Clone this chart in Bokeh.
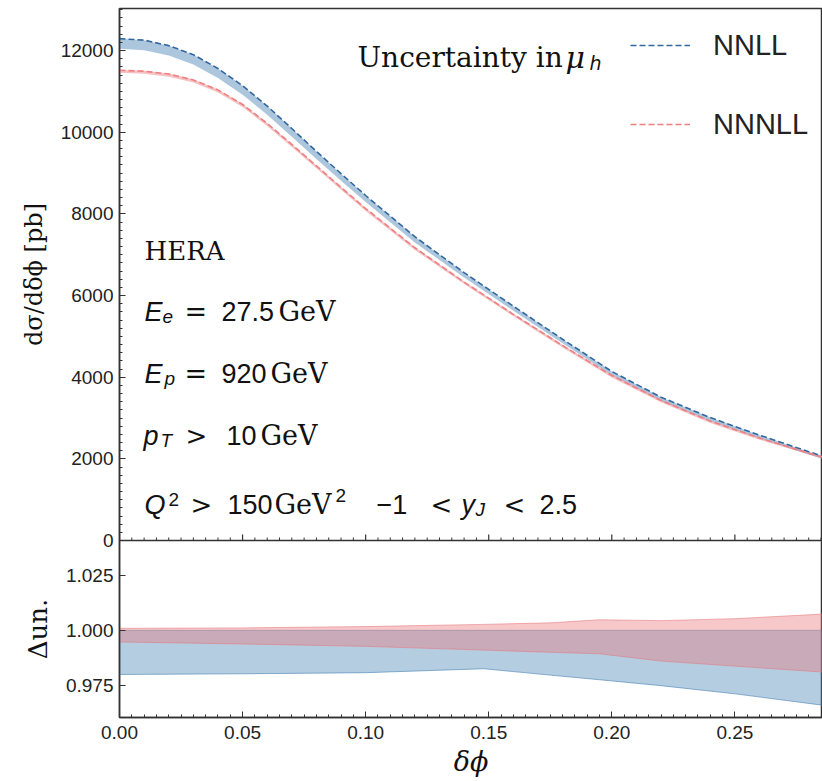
import math
from bokeh.plotting import figure
from bokeh.models import (Label, Legend, LegendItem, SingleIntervalTicker, FixedTicker,
                          PrintfTickFormatter, Range1d)
from bokeh.layouts import column
from bokeh.embed import file_html
from bokeh.resources import INLINE

# ---------------- data ----------------
delta_phi = [0.0, 0.01, 0.02, 0.03, 0.04, 0.05, 0.06, 0.07, 0.08, 0.09, 0.10,
             0.12, 0.14, 0.16, 0.18, 0.20, 0.22, 0.24, 0.26, 0.28, 0.2856]
nnll = [12291, 12255, 12120, 11900, 11560, 11140, 10640, 10090, 9530, 8985, 8450,
        7440, 6560, 5740, 4930, 4140, 3510, 3010, 2580, 2175, 2068]
nnll_lo = [12045, 12010, 11880, 11660, 11330, 10920, 10430, 9890, 9345, 8810, 8290,
           7300, 6440, 5630, 4830, 4045, 3420, 2925, 2505, 2105, 1998]
nnnll = [11516, 11495, 11425, 11280, 11035, 10680, 10215, 9700, 9175, 8650, 8130,
         7170, 6330, 5540, 4775, 4040, 3430, 2925, 2510, 2140, 2046]
nnnll_lo = [11455, 11430, 11360, 11215, 10970, 10615, 10155, 9640, 9115, 8590, 8070,
            7115, 6280, 5495, 4730, 3995, 3385, 2880, 2470, 2105, 2007]
nnnll_hi = [11526, 11505, 11435, 11290, 11045, 10690, 10225, 9710, 9185, 8660, 8145,
            7185, 6345, 5555, 4792, 4060, 3445, 2940, 2523, 2155, 2061]

ratio_x = [0.0, 0.05, 0.10, 0.148, 0.175, 0.195, 0.22, 0.25, 0.2856]
ratio_nnll_lo = [0.9799, 0.9802, 0.9807, 0.9825, 0.9796, 0.9775, 0.9748, 0.9711, 0.9659]
ratio_nnll_hi = [1.0, 1.0, 1.0, 1.0, 1.0, 1.0, 1.0, 1.0, 1.0]
ratio_nnnll_lo = [0.9947, 0.9938, 0.9927, 0.9910, 0.9900, 0.9893, 0.9860, 0.9837, 0.9810]
ratio_nnnll_hi = [1.0009, 1.0011, 1.0017, 1.0027, 1.0034, 1.0048, 1.0044, 1.0053, 1.0074]

x_ticks_major = 0.05
y_ticks_major = 2000
ratio_ticks = [0.975, 1.000, 1.025]
X_MAX = 0.2856

BLUE_LINE = "#33689f"
BLUE_FILL = "#4682b4"
RED_LINE = "#f07f80"
RED_FILL = "#e8757a"
AX = "#333333"
TICKFONT = "Liberation Sans"
SERIF = "DejaVu Serif"
SANS = "Liberation Sans"


def style_axis(ax, size="19px"):
    ax.axis_line_color = AX
    ax.axis_line_width = 1.5
    ax.major_tick_line_color = AX
    ax.minor_tick_line_color = AX
    ax.major_tick_in = 6
    ax.major_tick_out = 0
    ax.minor_tick_in = 3
    ax.minor_tick_out = 0
    ax.major_label_text_font = TICKFONT
    ax.major_label_text_font_size = size
    ax.major_label_text_color = "#222222"


def txt(p, x, y, s, font, size, style="normal", color="#111111"):
    p.add_layout(Label(x=x, y=y, x_units="screen", y_units="screen", text=s,
                       text_font=font, text_font_size=f"{size}px",
                       text_font_style=style, text_baseline="alphabetic",
                       text_color=color))


# ---------------- top panel ----------------
top = figure(frame_width=703, frame_height=532, x_range=Range1d(0, X_MAX),
             y_range=Range1d(0, 13030), output_backend="svg", toolbar_location=None,
             x_axis_location=None,
             min_border_left=119, min_border_right=0, min_border_top=8, min_border_bottom=12)
top.grid.visible = False
top.outline_line_color = AX
top.outline_line_width = 1.5
top.background_fill_color = "white"
top.border_fill_color = "white"

top.varea(x=delta_phi, y1=nnll_lo, y2=nnll, fill_color=BLUE_FILL, fill_alpha=0.45)
top.varea(x=delta_phi, y1=nnnll_lo, y2=nnnll_hi, fill_color=RED_FILL, fill_alpha=0.45)
r_nnll = top.line(delta_phi, nnll, line_color=BLUE_LINE, line_width=1.6, line_dash="6 3")
r_nnnll = top.line(delta_phi, nnnll, line_color=RED_LINE, line_width=1.6, line_dash="6 3")

# inward x ticks along the bottom edge of the upper panel (shared x axis)
n_minor = int(X_MAX / (x_ticks_major / 10)) + 1
minor_pos = [i * x_ticks_major / 10 for i in range(n_minor) if i % 10 != 0]
major_pos = [i * x_ticks_major for i in range(int(X_MAX / x_ticks_major) + 1)]
top.ray(x=major_pos, y=[0] * len(major_pos), length=6, length_units="screen",
        angle=math.pi / 2, line_color=AX, line_width=1.2)
top.ray(x=minor_pos, y=[0] * len(minor_pos), length=3, length_units="screen",
        angle=math.pi / 2, line_color=AX, line_width=1)

ya = top.yaxis[0]
ya.ticker = SingleIntervalTicker(interval=y_ticks_major, num_minor_ticks=10)
ya.formatter = PrintfTickFormatter(format="%d")
style_axis(ya)
ya.major_label_standoff = 6
ya.axis_label = "dσ/dδϕ [pb]"
ya.axis_label_text_font = SERIF
ya.axis_label_text_font_size = "24px"
ya.axis_label_text_font_style = "normal"
ya.axis_label_text_color = "#111111"
ya.axis_label_standoff = 10

leg = Legend(items=[LegendItem(label="NNLL", renderers=[r_nnll]),
                    LegendItem(label="NNNLL", renderers=[r_nnnll])],
             location=(511, 398), glyph_width=60, glyph_height=36, label_height=36,
             spacing=43, label_standoff=23, padding=0, margin=0,
             border_line_alpha=0, background_fill_alpha=0,
             label_text_font=TICKFONT, label_text_font_size="29px",
             label_text_color="#222222")
top.add_layout(leg)

# legend heading
txt(top, 238, 483, "Uncertainty in", SERIF, 28)
txt(top, 446, 483, "μ", SERIF, 30, "italic")
txt(top, 470, 478, "h", "DejaVu Sans", 19, "italic")
# info block
txt(top, 25, 290, "HERA", SERIF, 26)
# E_e
txt(top, 25, 229, "E", SANS, 27, "italic")
txt(top, 43, 224, "e", SANS, 19, "italic")
txt(top, 65, 229, "=", SERIF, 27)
txt(top, 102, 229, "27.5", SANS, 27)
txt(top, 159, 229, "GeV", SERIF, 27)
# E_p
txt(top, 25, 167, "E", SANS, 27, "italic")
txt(top, 45, 162, "p", SANS, 19, "italic")
txt(top, 65, 167, "=", SERIF, 27)
txt(top, 102, 167, "920", SANS, 27)
txt(top, 151, 167, "GeV", SERIF, 27)
# p_T
txt(top, 24, 105, "p", SANS, 27, "italic")
txt(top, 41, 100, "T", SANS, 19, "italic")
txt(top, 66, 105, ">", SERIF, 26)
txt(top, 107, 105, "10", SANS, 27)
txt(top, 141, 105, "GeV", SERIF, 27)
# Q^2 and y_J
txt(top, 25, 36, "Q", SANS, 27, "italic")
txt(top, 49, 41, "2", SANS, 19)
txt(top, 71, 36, ">", SERIF, 26)
txt(top, 108, 36, "150", SANS, 27)
txt(top, 155, 36, "GeV", SERIF, 27)
txt(top, 216, 45, "2", SANS, 19)
txt(top, 257, 36, "−1", SANS, 27)
txt(top, 311, 36, "<", SERIF, 26)
txt(top, 342, 36, "y", SANS, 27, "italic")
txt(top, 356, 31, "J", SANS, 19, "italic")
txt(top, 384, 36, "<", SERIF, 26)
txt(top, 420, 36, "2.5", SANS, 27)

# ---------------- bottom panel ----------------
bot = figure(frame_width=703, frame_height=177, x_range=top.x_range,
             y_range=Range1d(0.9603, 1.0409), output_backend="svg", toolbar_location=None,
             min_border_left=119, min_border_right=0, min_border_top=0, min_border_bottom=0,
             margin=(-12, 0, 0, 0))
bot.grid.visible = False
bot.outline_line_color = AX
bot.outline_line_width = 1.5
bot.background_fill_color = "white"
bot.border_fill_alpha = 0

bot.varea(x=ratio_x, y1=ratio_nnll_lo, y2=ratio_nnll_hi, fill_color=BLUE_FILL, fill_alpha=0.4)
bot.line(ratio_x, ratio_nnll_lo, line_color=BLUE_FILL, line_alpha=0.6, line_width=1)
bot.line(ratio_x, ratio_nnll_hi, line_color=BLUE_FILL, line_alpha=0.5, line_width=1)
bot.varea(x=ratio_x, y1=ratio_nnnll_lo, y2=ratio_nnnll_hi, fill_color=RED_FILL, fill_alpha=0.4)
bot.line(ratio_x, ratio_nnnll_lo, line_color=RED_FILL, line_alpha=0.55, line_width=1)
bot.line(ratio_x, ratio_nnnll_hi, line_color=RED_FILL, line_alpha=0.55, line_width=1)

bx = bot.xaxis[0]
bx.ticker = SingleIntervalTicker(interval=x_ticks_major, num_minor_ticks=10)
bx.formatter = PrintfTickFormatter(format="%.2f")
style_axis(bx)
bx.major_label_standoff = 8
bx.axis_label = "δϕ"
bx.axis_label_text_font = SERIF
bx.axis_label_text_font_size = "27px"
bx.axis_label_text_font_style = "italic"
bx.axis_label_text_color = "#111111"
bx.axis_label_standoff = 4

by = bot.yaxis[0]
by.ticker = FixedTicker(ticks=ratio_ticks, minor_ticks=[])
by.formatter = PrintfTickFormatter(format="%.3f")
style_axis(by)
by.major_label_standoff = 6
by.axis_label = "Δun."
by.axis_label_text_font = SERIF
by.axis_label_text_font_size = "26px"
by.axis_label_text_font_style = "normal"
by.axis_label_text_color = "#111111"
by.axis_label_standoff = 10

layout = column(top, bot, spacing=0)
open("out.html", "w").write(file_html(layout, INLINE))
